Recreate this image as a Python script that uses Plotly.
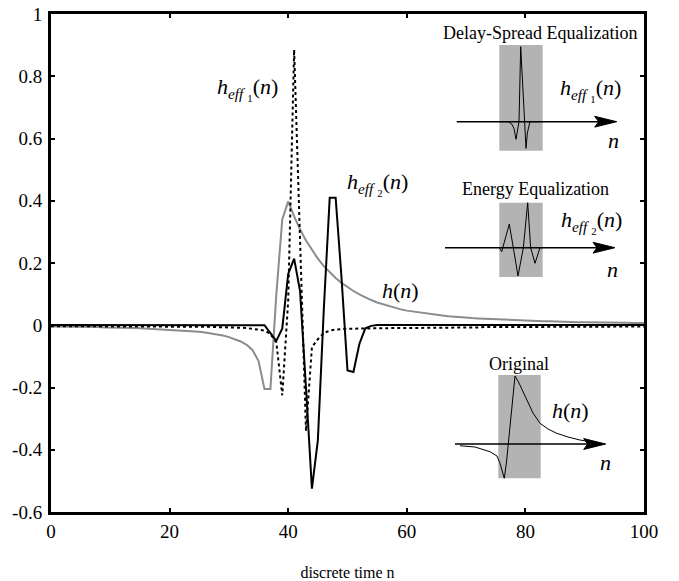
import plotly.graph_objects as go

# ---------------- data ----------------
n = list(range(101))

# original channel impulse response h(n)
h_orig = [
    -0.004, -0.004, -0.004, -0.005, -0.005, -0.005, -0.006, -0.006, -0.006, -0.007,
    -0.007, -0.008, -0.008, -0.009, -0.009, -0.010, -0.011, -0.011, -0.012, -0.013,
    -0.014, -0.015, -0.016, -0.018, -0.019, -0.021, -0.023, -0.026, -0.029, -0.033,
    -0.038, -0.044, -0.052, -0.063, -0.080, -0.115, -0.205, -0.205, 0.100, 0.340,
    0.398, 0.350, 0.308, 0.272, 0.241, 0.214, 0.190, 0.170, 0.152, 0.136,
    0.122, 0.110, 0.099, 0.089, 0.081, 0.073, 0.067, 0.061, 0.056, 0.051,
    0.047, 0.044, 0.041, 0.038, 0.035, 0.033, 0.031, 0.029, 0.027, 0.026,
    0.024, 0.023, 0.022, 0.021, 0.020, 0.019, 0.018, 0.017, 0.016, 0.016,
    0.015, 0.014, 0.014, 0.013, 0.013, 0.012, 0.012, 0.011, 0.011, 0.010,
    0.010, 0.010, 0.009, 0.009, 0.009, 0.008, 0.008, 0.008, 0.007, 0.007,
    0.007,
]

# effective response after delay-spread equalization
h_eff1 = [
    -0.003, -0.003, -0.003, -0.003, -0.003, -0.003, -0.003, -0.003, -0.003, -0.003,
    -0.004, -0.004, -0.004, -0.004, -0.004, -0.004, -0.004, -0.004, -0.004, -0.004,
    -0.005, -0.005, -0.005, -0.005, -0.005, -0.005, -0.005, -0.005, -0.006, -0.006,
    -0.006, -0.007, -0.008, -0.009, -0.011, -0.013, -0.017, -0.028, -0.055, -0.225,
    0.080, 0.885, 0.300, -0.340, -0.070, -0.045, -0.025, -0.017, -0.014, -0.012,
    -0.011, -0.011, -0.010, -0.010, -0.010, -0.010, -0.009, -0.009, -0.009, -0.009,
    -0.009, -0.008, -0.008, -0.008, -0.008, -0.008, -0.008, -0.007, -0.007, -0.007,
    -0.007, -0.007, -0.007, -0.006, -0.006, -0.006, -0.006, -0.006, -0.006, -0.006,
    -0.006, -0.005, -0.005, -0.005, -0.005, -0.005, -0.005, -0.005, -0.005, -0.005,
    -0.005, -0.004, -0.004, -0.004, -0.004, -0.004, -0.004, -0.004, -0.004, -0.004,
    -0.004,
]

# effective response after energy equalization
h_eff2 = (
    [0.001] * 36
    + [0.000, -0.025, -0.050, -0.010, 0.165, 0.214, 0.110, -0.200, -0.525, -0.370,
       0.050, 0.410, 0.410, 0.150, -0.145, -0.150, -0.060, -0.010, -0.002]
    + [0.001] * 46
)

y_tickvals = [1, 0.8, 0.6, 0.4, 0.2, 0, -0.2, -0.4, -0.6]
y_ticktext = ["1", "0.8", "0.6", "0.4", "0.2", "0", "-0.2", "-0.4", "-0.6"]
x_tickvals = [0, 20, 40, 60, 80, 100]

# schematic waveforms for the three illustrations (time, amplitude)
sk1_t = [-4.3, -2.54, -1.87, -1.4, -1.0, -0.4, -0.06, 1.0, 1.27, 1.53, 1.8, 4.3]
sk1_a = [0, 0, -0.03, -0.09, -0.235, 0, 1.0, -0.355, -0.15, -0.06, 0, 0]

sk2_t = [-4.4, -4.34, -3.86, -3.2, -2.34, -1.54, -0.6, 0.47, 1.34, 1.93, 2.8, 3.8, 4.4]
sk2_a = [0, 0, -0.053, 0.1, 0.316, 0, -0.377, 0, 0.6, 0, -0.208, 0, 0]

sk3_t = [-12.2, -9.2, -6.2, -4.8, -4.2, -3.7, -3.34, -2.9, -2.54, -2.0, -1.2, -0.4,
         1.14, 2.4, 3.8, 5.4, 7.14, 9.4, 11.8, 15.14]
sk3_a = [-0.023, -0.04, -0.103, -0.16, -0.257, -0.373, -0.457, -0.24, 0.0, 0.45, 0.907,
         0.813, 0.587, 0.413, 0.276, 0.2, 0.143, 0.093, 0.053, 0.017]

# ---------------- layout geometry (pixels) ----------------
W, H = 679, 581
PL, PR, PT, PB = 51, 644, 14, 512
FONT = "Liberation Serif"


def px_x(px):
    return (px - PL) / (PR - PL)


def px_y(py):
    return (PB - py) / (PB - PT)


SX = 5.0      # px per schematic time unit
SY = 75.0     # px per schematic amplitude unit
SK_CX = 521   # horizontal centre of the shaded windows
SK_X0, SK_X1 = 440, 630
SK_YR = [-0.55, 1.05]
baselines = [121.7, 247.7, 444.0]

fig = go.Figure()

fig.add_trace(go.Scatter(x=n, y=h_orig, mode="lines",
                         line=dict(color="#8c8c8c", width=2), showlegend=False))
fig.add_trace(go.Scatter(x=n, y=h_eff1, mode="lines",
                         line=dict(color="black", width=2, dash="3px,3px"), showlegend=False))
fig.add_trace(go.Scatter(x=n, y=h_eff2, mode="lines",
                         line=dict(color="black", width=2), showlegend=False))

sketches = [(sk1_t, sk1_a), (sk2_t, sk2_a), (sk3_t, sk3_a)]
for i, (t, a) in enumerate(sketches):
    k = i + 2
    fig.add_trace(go.Scatter(x=t, y=a, mode="lines", xaxis=f"x{k}", yaxis=f"y{k}",
                             line=dict(color="black", width=1), showlegend=False,
                             cliponaxis=False))

# empty trace that carries the top / right frame axes
fig.add_trace(go.Scatter(x=[], y=[], xaxis="x5", yaxis="y5", showlegend=False,
                         hoverinfo="skip"))

tick_style = dict(ticks="inside", ticklen=4, tickwidth=2, tickcolor="black",
                  showgrid=False, zeroline=False, automargin=False,
                  showline=True, linecolor="black", linewidth=3)
tick_font = dict(family=FONT, size=19, color="black")

layout = dict(
    width=W, height=H,
    margin=dict(l=PL, r=W - PR, t=PT, b=H - PB, pad=0),
    paper_bgcolor="white", plot_bgcolor="white",
    font=dict(family=FONT, color="black"),
    xaxis=dict(range=[0, 100], tickvals=x_tickvals, ticklabelstandoff=0,
               tickfont=tick_font,
               title=dict(text="discrete time n", font=dict(family=FONT, size=16, color="black"),
                          standoff=27),
               **tick_style),
    yaxis=dict(range=[-0.6, 1], tickvals=y_tickvals, ticktext=y_ticktext,
               ticklabelstandoff=2, tickfont=tick_font, **tick_style),
    # frame on the top and right with inward ticks
    xaxis5=dict(range=[0, 100], tickvals=x_tickvals, side="top", overlaying="x",
                anchor="y5", showticklabels=False, **tick_style),
    yaxis5=dict(range=[-0.6, 1], tickvals=y_tickvals, side="right", overlaying="y",
                anchor="x5", showticklabels=False, **tick_style),
)

shapes = []
annotations = []
for i, b in enumerate(baselines):
    k = i + 2
    top = b - SK_YR[1] * SY
    bot = b - SK_YR[0] * SY
    layout[f"xaxis{k}"] = dict(domain=[px_x(SK_X0), px_x(SK_X1)],
                               range=[(SK_X0 - SK_CX) / SX, (SK_X1 - SK_CX) / SX],
                               visible=False, anchor=f"y{k}", fixedrange=True)
    layout[f"yaxis{k}"] = dict(domain=[px_y(bot), px_y(top)], range=SK_YR,
                               visible=False, anchor=f"x{k}", fixedrange=True)

# shaded windows (time, amplitude extents in schematic units)
windows = [(-4.34, 4.34, -0.387, 1.023), (-4.34, 4.34, -0.39, 0.6), (-4.54, 3.94, -0.457, 0.92)]
# arrow extents along the time axis
arrows = [(-12.86, 19.14), (-15.2, 18.8), (-13.2, 16.94)]
for i in range(3):
    k = i + 2
    x0, x1, y0, y1 = windows[i]
    shapes.append(dict(type="rect", xref=f"x{k}", yref=f"y{k}", x0=x0, x1=x1, y0=y0, y1=y1,
                       fillcolor="#b3b3b3", line=dict(width=0), layer="below"))
    a0, a1 = arrows[i]
    shapes.append(dict(type="line", xref=f"x{k}", yref=f"y{k}", x0=a0, x1=a1 - 3.0, y0=0, y1=0,
                       line=dict(color="black", width=1.5)))
    shapes.append(dict(type="path", xref=f"x{k}", yref=f"y{k}",
                       path=f"M {a1},0 L {a1 - 4.4},0.072 L {a1 - 3.6},0 L {a1 - 4.4},-0.072 Z",
                       fillcolor="black", line=dict(color="black", width=1)))

layout["shapes"] = shapes

heff1 = "<i>h</i><sub><i>eff</i> <sub>1</sub></sub>(<i>n</i>)"
heff2 = "<i>h</i><sub><i>eff</i> <sub>2</sub></sub>(<i>n</i>)"
hn = "<i>h</i>(<i>n</i>)"

lab_font = dict(family=FONT, size=22, color="black")
ttl_font = dict(family=FONT, size=18, color="black")
centred = dict(showarrow=False, xanchor="center", yanchor="middle")

# labels on the main curves
annotations += [
    dict(x=33.2, y=0.76, xref="x", yref="y", text=heff1, font=lab_font, **centred),
    dict(x=55.0, y=0.455, xref="x", yref="y", text=heff2, font=lab_font, **centred),
    dict(x=58.9, y=0.113, xref="x", yref="y", text=hn, font=lab_font, **centred),
]

# schematic titles (placed in page pixels) and labels (schematic units)
titles = [(540, 33, "Delay-Spread Equalization"), (535, 189, "Energy Equalization"),
          (519, 364, "Original")]
for cx, cy, txt in titles:
    annotations.append(dict(x=px_x(cx), y=px_y(cy), xref="paper", yref="paper", text=txt,
                            font=ttl_font, **centred))

sk_text = [
    (2, 13.8, 0.42, heff1),
    (2, 18.4, -0.244, "<i>n</i>"),
    (3, 14.0, 0.343, heff2),
    (3, 18.2, -0.284, "<i>n</i>"),
    (4, 9.8, 0.453, hn),
    (4, 16.8, -0.24, "<i>n</i>"),
]
for k, x, y, txt in sk_text:
    annotations.append(dict(x=x, y=y, xref=f"x{k}", yref=f"y{k}", text=txt,
                            font=lab_font, **centred))

layout["annotations"] = annotations
fig.update_layout(**layout)

fig.write_html("out.html")
